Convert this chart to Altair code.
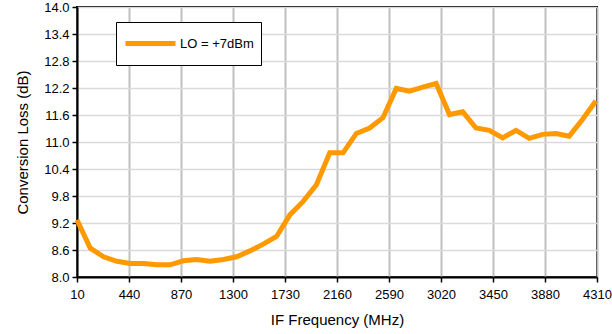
import altair as alt
import pandas as pd

freq_mhz = [10, 120, 230, 340, 450, 560, 670, 780, 890, 1000,
            1110, 1220, 1330, 1440, 1550, 1660, 1770, 1880, 1990, 2100,
            2210, 2320, 2430, 2540, 2650, 2760, 2870, 2980, 3090, 3200,
            3310, 3420, 3530, 3640, 3750, 3860, 3970, 4080, 4190, 4300]
loss_db = [9.27, 8.64, 8.45, 8.35, 8.30, 8.30, 8.27, 8.27, 8.36, 8.39,
           8.35, 8.39, 8.45, 8.58, 8.73, 8.90, 9.38, 9.68, 10.05, 10.76,
           10.76, 11.19, 11.31, 11.54, 12.19, 12.13, 12.22, 12.30, 11.61, 11.67,
           11.31, 11.26, 11.09, 11.26, 11.08, 11.17, 11.19, 11.13, 11.50, 11.91]
series_name = "LO = +7dBm"

x_ticks = [10, 440, 870, 1300, 1730, 2160, 2590, 3020, 3450, 3880, 4310]
y_ticks = [8.0, 8.6, 9.2, 9.8, 10.4, 11.0, 11.6, 12.2, 12.8, 13.4, 14.0]

df = pd.DataFrame({"freq": freq_mhz, "loss": loss_db, "series": [series_name] * len(freq_mhz)})

FONT = "Liberation Sans"

chart = alt.Chart(df).mark_line(strokeWidth=5, strokeJoin="miter").encode(
    x=alt.X("freq:Q",
            scale=alt.Scale(domain=[10, 4310], nice=False, zero=False),
            axis=alt.Axis(values=x_ticks, title="IF Frequency (MHz)", format="d",
                          gridColor="#c0c0c0", gridWidth=2,
                          labelFlush=False, labelOverlap=False,
                          tickSize=5, labelPadding=6, titlePadding=11)),
    y=alt.Y("loss:Q",
            scale=alt.Scale(domain=[8, 14], nice=False, zero=False),
            axis=alt.Axis(values=y_ticks, title="Conversion Loss (dB)", format=".1f",
                          gridColor="#d9d9d9", gridWidth=1.5,
                          labelFlush=False, labelOverlap=False,
                          tickSize=5, labelPadding=3, titlePadding=13)),
    color=alt.Color("series:N",
                    scale=alt.Scale(range=["#ff9900"]),
                    legend=alt.Legend(title=None, orient="none", legendX=39, legendY=15,
                                      strokeColor="black", fillColor="white",
                                      padding=7, symbolType="stroke", symbolSize=2500,
                                      symbolStrokeWidth=5, clipHeight=29,
                                      labelFontSize=13, labelFont=FONT, labelColor="black",
                                      labelOffset=2, symbolOffset=0)),
).properties(
    width=520, height=270,
    autosize=alt.AutoSizeParams(type="none"),
    padding={"left": 77, "top": 7, "right": 15, "bottom": 57},
).configure_view(
    stroke="black", strokeWidth=2
).configure_axis(
    domainColor="black", domainWidth=2, tickColor="black", tickWidth=1.5,
    labelFont=FONT, labelFontSize=13, labelColor="black",
    titleFont=FONT, titleFontSize=15, titleFontWeight="normal", titleColor="black",
)

chart.save("out.html", embed_options={"renderer": "svg", "actions": False})
